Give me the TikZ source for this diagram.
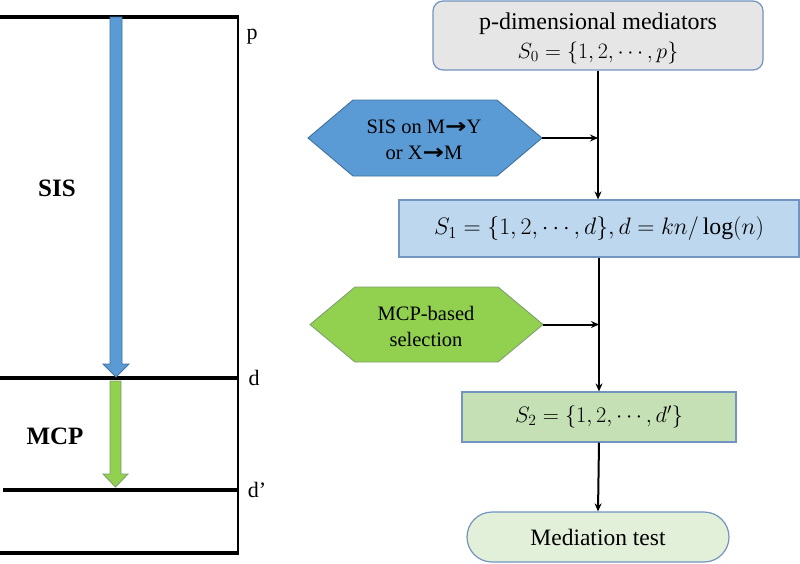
\RequirePackage{fix-cm}
\documentclass[tikz,border=0pt]{standalone}
\usepackage{fontspec}
\setmainfont{Liberation Serif}
\newfontfamily\djv{DejaVu Sans}
\usetikzlibrary{arrows.meta,shapes.misc}
\definecolor{bordblue}{HTML}{7393C0}
\definecolor{hexblue}{HTML}{5B9BD5}
\definecolor{hexblueb}{HTML}{41719C}
\definecolor{hexgreen}{HTML}{92D050}
\definecolor{hexgreenb}{HTML}{7F9F6F}
\definecolor{topgray}{HTML}{E7E6E6}
\definecolor{sonefill}{HTML}{BDD7EE}
\definecolor{stwofill}{HTML}{C5E0B4}
\definecolor{medfill}{HTML}{E2F0D9}
\newcommand{\rarr}{{\djv\bfseries\fontsize{19}{22}\selectfont\scalebox{1.35}[1.1]{→}}}
\begin{document}
\begin{tikzpicture}[x=1pt,y=-1pt,
  level/.style={line width=3.4pt,black},
  lbl/.style={font=\fontsize{22}{24}\selectfont,inner sep=0pt},
  boldlbl/.style={font=\bfseries\fontsize{25}{28}\selectfont,inner sep=0pt},
  box/.style={draw=bordblue,line width=1.2pt,inner sep=0pt,align=center},
  hextext/.style={font=\fontsize{20.5}{26}\selectfont,align=center,inner sep=0pt},
  flow/.style={line width=2pt,-{Stealth[length=8pt,width=7pt]}},
  bigarrow/.style={line width=0.9pt}]
\useasboundingbox (0,0) rectangle (800,563);
% left panel
\draw[level] (0,17) -- (238,17);
\draw[level] (0,378) -- (238,378);
\draw[level] (3,490) -- (238,490);
\draw[level] (0,553) -- (238,553);
\draw[line width=2.8pt] (238,15.3) -- (238,554.7);
\draw[bigarrow,draw=hexblueb,fill=hexblue] (110,17) -- (122,17) -- (122,364) -- (129,364) -- (116,377) -- (103,364) -- (110,364) -- cycle;
\draw[bigarrow,draw=hexgreenb,fill=hexgreen] (110,381) -- (121,381) -- (121,474) -- (128,474) -- (115.5,487) -- (103,474) -- (110,474) -- cycle;
\node[boldlbl] (sislbl) at (57,188) {SIS};
\node[boldlbl] (mcplbl) at (55,436) {MCP};
\node[lbl] (plbl) at (252,37) {p};
\node[lbl] (dlbl) at (254,378) {d};
\node[lbl] (dplbl) at (257,490) {d’};
% right panel
\node[box,fill=topgray,rounded corners=10pt,minimum width=330pt,minimum height=69pt,font=\fontsize{24}{31}\selectfont] (top) at (598,35.5) {\rule{0pt}{22pt}p-dimensional mediators\\[-2pt] {\fontsize{22}{26}\selectfont$S_0=\{1,2,\cdots,p\}$}};
\node[box,fill=sonefill,minimum width=400pt,minimum height=57pt,font=\fontsize{23.8}{28}\selectfont] (sone) at (599,228.5) {$S_1=\{1,2,\cdots,d\},d=kn/\log(n)$};
\node[box,fill=stwofill,minimum width=274pt,minimum height=50pt,font=\fontsize{22.3}{26}\selectfont] (stwo) at (599,417) {$S_2=\{1,2,\cdots,d'\}$};
\node[box,fill=medfill,rounded rectangle,minimum width=262pt,minimum height=50pt,font=\fontsize{23.5}{27}\selectfont] (med) at (598,537) {Mediation test};
% hexagons
\draw[bigarrow,draw=hexblueb,fill=hexblue] (308,138) -- (353,100) -- (497,100) -- (542,138) -- (497,176) -- (353,176) -- cycle;
\coordinate (sisR) at (542,138);
\node[hextext] (sis) at (424,140) {SIS on M\rarr Y\\or X\rarr M};
\draw[bigarrow,draw=hexgreenb,fill=hexgreen] (310,324.5) -- (355,287) -- (498,287) -- (543,324.5) -- (498,362) -- (355,362) -- cycle;
\coordinate (mcpR) at (543,324.5);
\node[hextext] (mcp) at (426,326) {MCP-based\\selection};
% connectors
\draw[flow] (top.south) -- (top.south |- sone.north);
\draw[flow] (sisR) -- (sisR -| top.south);
\draw[flow] (sone.south) -- (stwo.north);
\draw[flow] (mcpR) -- (mcpR -| sone.south);
\draw[flow] (stwo.south) -- (med.north);
\end{tikzpicture}
\end{document}
